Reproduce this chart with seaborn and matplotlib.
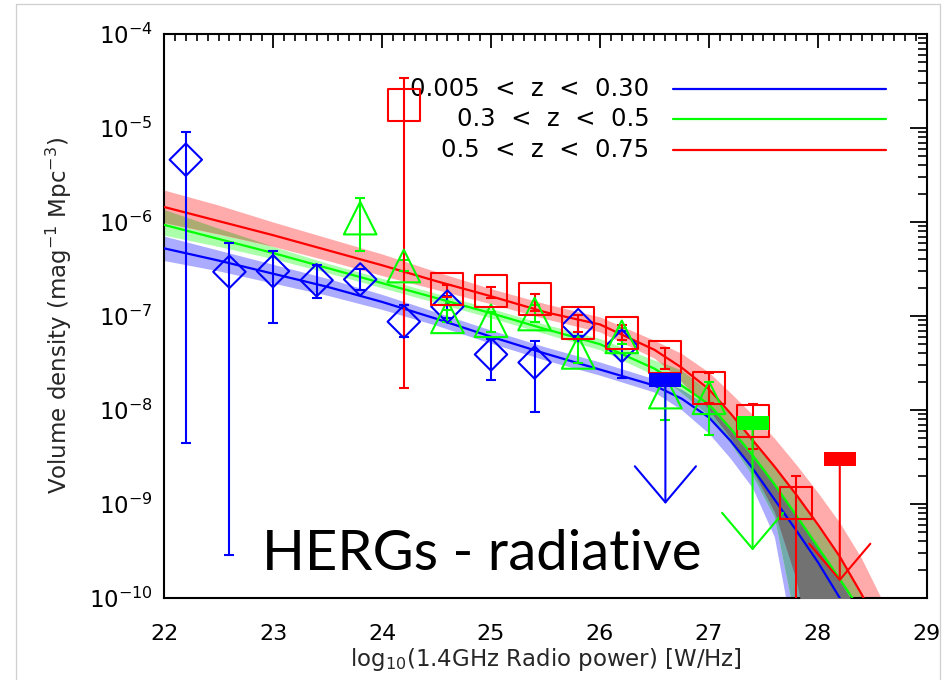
import numpy as np
import matplotlib
matplotlib.use("Agg")
import matplotlib.pyplot as plt
import seaborn as sns
from matplotlib.ticker import FixedLocator, MultipleLocator, LogLocator, NullFormatter, LogFormatterSciNotation
from matplotlib.lines import Line2D

# ---------------- data ----------------
SERIES_LABELS = ["0.005  <  z  <  0.30", "0.3  <  z  <  0.5", "0.5  <  z  <  0.75"]
SERIES_COLORS = ["#0000ff", "#00ff00", "#ff0000"]
X_TICKS = [22, 23, 24, 25, 26, 27, 28, 29]
Y_TICKS = [1e-10, 1e-9, 1e-8, 1e-7, 1e-6, 1e-5, 1e-4]

# blue: 0.005 < z < 0.30  (diamonds)
BLUE_X = [22.2, 22.6, 23.0, 23.4, 23.8, 24.2, 24.6, 25.0, 25.4, 25.8, 26.2]
BLUE_Y = [4.6e-6, 2.95e-7, 3.0e-7, 2.4e-7, 2.45e-7, 8.7e-8, 1.26e-7, 3.9e-8, 3.2e-8, 8.0e-8, 4.8e-8]
BLUE_LO = [4.5e-9, 2.9e-10, 8.5e-8, 1.55e-7, 1.9e-7, 6.0e-8, 9.5e-8, 2.1e-8, 9.5e-9, 6.2e-8, 2.2e-8]
BLUE_HI = [9.0e-6, 6.0e-7, 4.9e-7, 3.5e-7, 3.2e-7, 1.3e-7, 1.65e-7, 5.7e-8, 5.4e-8, 1.02e-7, 7.0e-8]
BLUE_LIM_X = [26.6]
BLUE_LIM_Y = [2.1e-8]
BLUE_LIM_TIP = [1.0e-9]

# green: 0.3 < z < 0.5  (triangles)
GREEN_X = [23.8, 24.2, 24.6, 25.0, 25.4, 25.8, 26.2, 26.6, 27.0]
GREEN_Y = [1.1e-6, 3.4e-7, 9.8e-8, 8.9e-8, 1.05e-7, 4.1e-8, 6.0e-8, 1.55e-8, 1.35e-8]
GREEN_LO = [4.9e-7, 3.0e-7, 8.7e-8, 6.8e-8, 8.7e-8, 3.2e-8, 5.0e-8, 7.9e-9, 5.4e-9]
GREEN_HI = [1.8e-6, 3.9e-7, 1.15e-7, 1.1e-7, 1.3e-7, 5.5e-8, 7.5e-8, 2.1e-8, 2.0e-8]
GREEN_LIM_X = [27.4]
GREEN_LIM_Y = [7.2e-9]
GREEN_LIM_TIP = [3.2e-10]

# red: 0.5 < z < 0.75  (squares)
RED_X = [24.2, 24.6, 25.0, 25.4, 25.8, 26.2, 26.6, 27.0, 27.4, 27.8]
RED_Y = [1.74e-5, 1.94e-7, 1.85e-7, 1.5e-7, 8.5e-8, 6.6e-8, 3.7e-8, 1.7e-8, 7.7e-9, 1.02e-9]
RED_LO = [1.7e-8, 1.6e-7, 1.55e-7, 1.12e-7, 6.7e-8, 5.5e-8, 2.75e-8, 1.2e-8, 3.8e-9, 5.0e-11]
RED_HI = [3.4e-5, 2.15e-7, 2.05e-7, 1.7e-7, 1.02e-7, 8.0e-8, 4.6e-8, 2.45e-8, 1.15e-8, 2.0e-9]
RED_LIM_X = [28.2]
RED_LIM_Y = [3.0e-9]
RED_LIM_TIP = [1.5e-10]

# model fits (log10 of volume density) and their uncertainty bands
FIT_X = [22.0, 22.5, 23.0, 23.5, 24.0, 24.5, 25.0, 25.5, 26.0, 26.5, 26.75,
         27.0, 27.2, 27.4, 27.6, 27.8, 28.0, 28.2, 28.4, 28.6, 28.8]
BLUE_FIT = [-6.28, -6.41, -6.55, -6.69, -6.85, -7.03, -7.22, -7.40, -7.57, -7.74, -7.88,
            -8.08, -8.33, -8.62, -8.95, -9.28, -9.62, -10.0, -10.5, -11.0, -11.0]
BLUE_BAND_LO = [-6.41, -6.52, -6.65, -6.78, -6.93, -7.10, -7.29, -7.47, -7.63, -7.81, -8.00,
                -8.25, -8.52, -8.83, -9.35, -10.6, -11.0, -11.0, -11.0, -11.0, -11.0]
BLUE_BAND_HI = [-6.15, -6.30, -6.45, -6.60, -6.77, -6.96, -7.15, -7.33, -7.49, -7.67, -7.78,
                -7.96, -8.22, -8.50, -8.80, -9.12, -9.46, -9.82, -10.2, -11.0, -11.0]
GREEN_FIT = [-6.03, -6.18, -6.33, -6.49, -6.65, -6.81, -6.97, -7.14, -7.30, -7.56, -7.74,
             -7.94, -8.20, -8.48, -8.79, -9.12, -9.46, -9.80, -10.15, -10.6, -11.0]
GREEN_BAND_LO = [-6.14, -6.26, -6.39, -6.54, -6.70, -6.86, -7.02, -7.19, -7.36, -7.63, -7.82,
                 -8.06, -8.36, -8.70, -9.14, -10.3, -11.0, -11.0, -11.0, -11.0, -11.0]
GREEN_BAND_HI = [-5.87, -6.07, -6.26, -6.44, -6.60, -6.76, -6.92, -7.09, -7.24, -7.47, -7.58,
                 -7.80, -8.06, -8.33, -8.61, -8.91, -9.24, -9.58, -9.98, -10.4, -11.0]
RED_FIT = [-5.84, -5.99, -6.14, -6.30, -6.46, -6.63, -6.79, -6.96, -7.09, -7.36, -7.55,
           -7.78, -8.04, -8.32, -8.60, -8.90, -9.22, -9.56, -9.96, -10.4, -10.8]
RED_BAND_LO = [-6.01, -6.13, -6.26, -6.41, -6.57, -6.72, -6.87, -7.03, -7.17, -7.45, -7.70,
               -8.00, -8.30, -8.64, -9.08, -9.80, -11.0, -11.0, -11.0, -11.0, -11.0]
RED_BAND_HI = [-5.66, -5.82, -6.00, -6.17, -6.34, -6.53, -6.71, -6.87, -7.01, -7.26, -7.40,
               -7.60, -7.82, -8.05, -8.30, -8.58, -8.88, -9.20, -9.58, -10.05, -10.5]

X_LABEL = r"log$_{10}$(1.4GHz Radio power) [W/Hz]"
Y_LABEL = r"Volume density (mag$^{-1}$ Mpc$^{-3}$)"
PANEL_TEXT = "HERGs - radiative"

# ---------------- figure ----------------
sns.set_style("white")
plt.rcParams["font.family"] = ["DejaVu Sans"]
plt.rcParams["mathtext.fontset"] = "dejavusans"

fig = plt.figure(figsize=(9.53, 6.80), dpi=100)
ax = fig.add_axes([0.1721, 0.1206, 0.8006, 0.8294])
ax.set_yscale("log")
ax.set_xlim(22, 29)
ax.set_ylim(1e-10, 1e-4)

fx = np.array(FIT_X)
bands = {
    "b": (np.array(BLUE_BAND_LO), np.array(BLUE_BAND_HI)),
    "g": (np.array(GREEN_BAND_LO), np.array(GREEN_BAND_HI)),
    "r": (np.array(RED_BAND_LO), np.array(RED_BAND_HI)),
}
tint = {"r": np.array([1.0, 0.67, 0.67]),
        "g": np.array([0.67, 1.0, 0.67]),
        "b": np.array([0.67, 0.67, 1.0])}

# single bands
for k in ["b", "g", "r"]:
    lo, hi = bands[k]
    ax.fill_between(fx, 10 ** lo, 10 ** hi, color=tint[k], lw=0, zorder=1)
# overlaps drawn with multiplied tints
for a, b in [("r", "g"), ("g", "b"), ("r", "b")]:
    lo = np.maximum(bands[a][0], bands[b][0])
    hi = np.minimum(bands[a][1], bands[b][1])
    ax.fill_between(fx, 10 ** lo, 10 ** hi, where=hi > lo, interpolate=True,
                    color=tint[a] * tint[b], lw=0, zorder=2)
lo3 = np.maximum(np.maximum(bands["r"][0], bands["g"][0]), bands["b"][0])
hi3 = np.minimum(np.minimum(bands["r"][1], bands["g"][1]), bands["b"][1])
ax.fill_between(fx, 10 ** lo3, 10 ** hi3, where=hi3 > lo3, interpolate=True,
                color=tint["r"] * tint["g"] * tint["b"], lw=0, zorder=3)

# fit lines
for fit, c in [(BLUE_FIT, SERIES_COLORS[0]), (GREEN_FIT, SERIES_COLORS[1]), (RED_FIT, SERIES_COLORS[2])]:
    sns.lineplot(x=fx, y=10 ** np.array(fit), color=c, lw=1.6, ax=ax, zorder=4, sort=False)

# data points with errors
def points(xs, ys, los, his, c, marker, size):
    ys = np.array(ys)
    yerr = [ys - np.array(los), np.array(his) - ys]
    ax.errorbar(xs, ys, yerr=yerr, fmt="none", ecolor=c, elinewidth=1.5,
                capsize=3.3, capthick=1.5, zorder=5)
    sns.scatterplot(x=xs, y=ys, marker=marker, s=size, color=c, facecolor="none",
                    edgecolor=c, linewidth=1.5, ax=ax, zorder=6, legend=False)

points(BLUE_X, BLUE_Y, BLUE_LO, BLUE_HI, SERIES_COLORS[0], "D", 16.5 ** 2)
points(GREEN_X, GREEN_Y, GREEN_LO, GREEN_HI, SERIES_COLORS[1], "^", 23.5 ** 2)
points(RED_X, RED_Y, RED_LO, RED_HI, SERIES_COLORS[2], "s", 23 ** 2)

# upper limits: filled bar + open arrow
bar_marker = [(-1, -0.45), (1, -0.45), (1, 0.45), (-1, 0.45), (-1, -0.45)]
for xs, ys, tips, c in [(BLUE_LIM_X, BLUE_LIM_Y, BLUE_LIM_TIP, SERIES_COLORS[0]),
                        (GREEN_LIM_X, GREEN_LIM_Y, GREEN_LIM_TIP, SERIES_COLORS[1]),
                        (RED_LIM_X, RED_LIM_Y, RED_LIM_TIP, SERIES_COLORS[2])]:
    for xv, yv, tv in zip(xs, ys, tips):
        ax.annotate("", xy=(xv, tv), xytext=(xv, yv),
                    arrowprops=dict(arrowstyle="->,head_length=2.6,head_width=2.2",
                                    color=c, lw=1.5, shrinkA=0, shrinkB=0,
                                    mutation_scale=10), zorder=5)
    sns.scatterplot(x=xs, y=ys, marker=bar_marker, s=22.5 ** 2, color=c,
                    edgecolor=c, linewidth=0, ax=ax, zorder=6, legend=False)

# legend (right-aligned text, line after)
for i, (lab, c) in enumerate(zip(SERIES_LABELS, SERIES_COLORS)):
    yy = [0.9025, 0.849, 0.794][i]
    ax.text(0.636, yy, lab, transform=ax.transAxes, ha="right", va="center",
            fontsize=17.5, color="black")
    ax.plot([0.667, 0.946], [yy, yy], transform=ax.transAxes, color=c, lw=1.6)

ax.text(0.128, 0.0496, PANEL_TEXT, transform=ax.transAxes, ha="left", va="baseline",
        fontsize=40.5, family=["Lato", "DejaVu Sans"], color="black", zorder=7)

# axes styling
for s in ax.spines.values():
    s.set_linewidth(1.5)
    s.set_color("black")
ax.xaxis.set_major_locator(FixedLocator(X_TICKS))
ax.xaxis.set_minor_locator(MultipleLocator(0.1))
ax.yaxis.set_major_locator(FixedLocator(Y_TICKS))
ax.yaxis.set_major_formatter(LogFormatterSciNotation(base=10))
ax.yaxis.set_minor_locator(LogLocator(base=10.0, subs=(2, 3, 4, 5, 6, 7, 8, 9), numticks=50))
ax.yaxis.set_minor_formatter(NullFormatter())
ax.xaxis.set_minor_formatter(NullFormatter())
ax.tick_params(which="both", direction="in", top=True, right=True, colors="black")
ax.tick_params(axis="x", which="major", length=10, width=1.3, pad=19, labelsize=16)
ax.tick_params(axis="x", which="minor", length=5, width=1.2)
ax.tick_params(axis="y", which="major", length=12, width=1.3, pad=8, labelsize=16.5)
ax.tick_params(axis="y", which="minor", length=6.5, width=1.2)

ax.set_xlabel(X_LABEL, fontsize=16.5)
ax.set_ylabel(Y_LABEL, fontsize=16.5)
ax.xaxis.set_label_coords(0.5, -0.086)
ax.yaxis.set_label_coords(-0.118, 0.5)

# light outer frame (left, top, right)
frame_kw = dict(transform=fig.transFigure, color="#cfcfcf", lw=0.9)
fig.add_artist(Line2D([0.0168, 0.0168], [0.0, 0.9941], **frame_kw))
fig.add_artist(Line2D([0.0168, 0.9864], [0.9941, 0.9941], **frame_kw))
fig.add_artist(Line2D([0.9864, 0.9864], [0.0, 0.9941], **frame_kw))

fig.savefig("out.png", dpi=100)
